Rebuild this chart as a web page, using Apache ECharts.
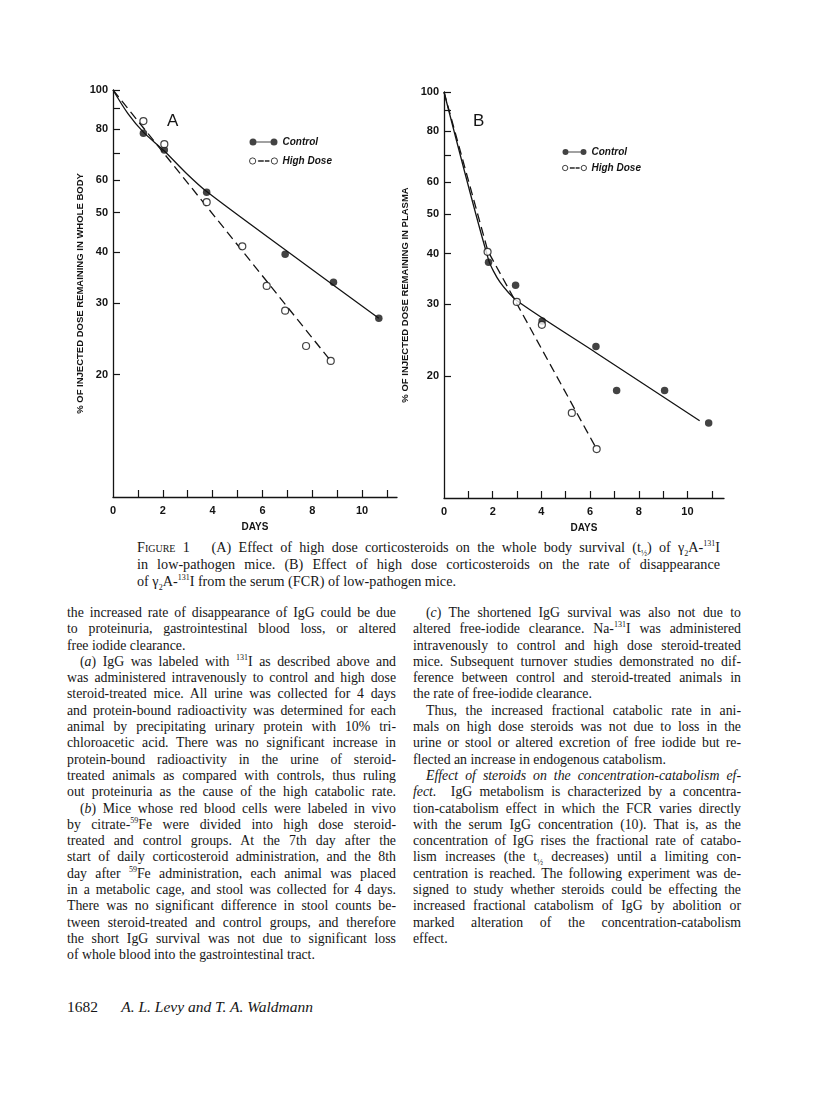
<!DOCTYPE html>
<html>
<head>
<meta charset="utf-8">
<script src="https://cdn.jsdelivr.net/npm/echarts@6/dist/echarts.min.js"></script>
<style>
  body { margin:0; background:#fff; width:816px; height:1100px; position:relative; overflow:hidden;
         font-family:'Liberation Serif','DejaVu Serif',serif; color:#161616; }
  #chart { position:absolute; left:0; top:0; width:816px; height:535px; }
  .cap { position:absolute; left:137px; top:539px; width:583px; font-size:14.2px; line-height:17px; }
  .col { position:absolute; top:605px; font-size:13.8px; line-height:16.3px; }
  .j { text-align:justify; text-align-last:justify; }
  .l { text-align:left; }
  .ind { text-indent:13px; }
  sup, sub { font-size:8px; line-height:0; }
  .sc { font-variant:small-caps; }
  .foot { position:absolute; left:67px; top:998px; font-size:15.5px; }
</style>
</head>
<body>
<div id="chart"></div>

<div class="cap">
  <div class="j"><span class="sc">Figure</span> 1&nbsp;&nbsp; (A) Effect of high dose corticosteroids on the whole body survival (t<sub>½</sub>) of γ<sub>2</sub>A-<sup>131</sup>I</div>
  <div class="j">in low-pathogen mice. (B) Effect of high dose corticosteroids on the rate of disappearance</div>
  <div class="l">of γ<sub>2</sub>A-<sup>131</sup>I from the serum (FCR) of low-pathogen mice.</div>
</div>

<div class="col" style="left:67px;width:329px">
  <div class="j">the increased rate of disappearance of IgG could be due</div>
  <div class="j">to proteinuria, gastrointestinal blood loss, or altered</div>
  <div class="l">free iodide clearance.</div>
  <div class="j ind">(<i>a</i>) IgG was labeled with <sup>131</sup>I as described above and</div>
  <div class="j">was administered intravenously to control and high dose</div>
  <div class="j">steroid-treated mice. All urine was collected for 4 days</div>
  <div class="j">and protein-bound radioactivity was determined for each</div>
  <div class="j">animal by precipitating urinary protein with 10% tri-</div>
  <div class="j">chloroacetic acid. There was no significant increase in</div>
  <div class="j">protein-bound radioactivity in the urine of steroid-</div>
  <div class="j">treated animals as compared with controls, thus ruling</div>
  <div class="j">out proteinuria as the cause of the high catabolic rate.</div>
  <div class="j ind">(<i>b</i>) Mice whose red blood cells were labeled in vivo</div>
  <div class="j">by citrate-<sup>59</sup>Fe were divided into high dose steroid-</div>
  <div class="j">treated and control groups. At the 7th day after the</div>
  <div class="j">start of daily corticosteroid administration, and the 8th</div>
  <div class="j">day after <sup>59</sup>Fe administration, each animal was placed</div>
  <div class="j">in a metabolic cage, and stool was collected for 4 days.</div>
  <div class="j">There was no significant difference in stool counts be-</div>
  <div class="j">tween steroid-treated and control groups, and therefore</div>
  <div class="j">the short IgG survival was not due to significant loss</div>
  <div class="l">of whole blood into the gastrointestinal tract.</div>
</div>

<div class="col" style="left:413px;width:328px">
  <div class="j ind">(<i>c</i>) The shortened IgG survival was also not due to</div>
  <div class="j">altered free-iodide clearance. Na-<sup>131</sup>I was administered</div>
  <div class="j">intravenously to control and high dose steroid-treated</div>
  <div class="j">mice. Subsequent turnover studies demonstrated no dif-</div>
  <div class="j">ference between control and steroid-treated animals in</div>
  <div class="l">the rate of free-iodide clearance.</div>
  <div class="j ind">Thus, the increased fractional catabolic rate in ani-</div>
  <div class="j">mals on high dose steroids was not due to loss in the</div>
  <div class="j">urine or stool or altered excretion of free iodide but re-</div>
  <div class="l">flected an increase in endogenous catabolism.</div>
  <div class="j ind"><i>Effect of steroids on the concentration-catabolism ef-</i></div>
  <div class="j"><i>fect.</i>&nbsp; IgG metabolism is characterized by a concentra-</div>
  <div class="j">tion-catabolism effect in which the FCR varies directly</div>
  <div class="j">with the serum IgG concentration (10). That is, as the</div>
  <div class="j">concentration of IgG rises the fractional rate of catabo-</div>
  <div class="j">lism increases (the t<sub>½</sub> decreases) until a limiting con-</div>
  <div class="j">centration is reached. The following experiment was de-</div>
  <div class="j">signed to study whether steroids could be effecting the</div>
  <div class="j">increased fractional catabolism of IgG by abolition or</div>
  <div class="j">marked alteration of the concentration-catabolism</div>
  <div class="l">effect.</div>
</div>

<div class="foot">1682&nbsp;&nbsp;&nbsp;&nbsp;&nbsp; <i>A. L. Levy and T. A. Waldmann</i></div>

<script>
// axis ticks
var xTicks = [1, 2, 3, 4, 5, 6, 7, 8, 9, 10, 11];
var xLabels = [0, 2, 4, 6, 8, 10];
var yTicks = [20, 30, 40, 50, 60, 70, 80, 90, 100];
var yLabels = [20, 30, 40, 50, 60, 80, 100];

// panel A - whole body
var daysA_control = [1.22, 2.06, 3.76, 6.91, 8.85, 10.67];
var pctA_control  = [78.3, 71.2, 56.1, 39.5, 33.7, 27.5];
var daysA_high    = [1.22, 2.06, 3.76, 5.19, 6.17, 6.91, 7.75, 8.74];
var pctA_high     = [83.9, 73.6, 53.0, 41.3, 33.0, 28.7, 23.5, 21.6];
var fitDaysA_control = [0, 0.6, 1.22, 2.06, 2.9, 3.76, 6.91, 10.67];
var fitPctA_control  = [100, 87.5, 78.8, 70.8, 62.8, 56.3, 40.5, 27.5];
var fitDaysA_high    = [0, 8.74];
var fitPctA_high     = [100, 21.6];

// panel B - plasma
var daysB_control = [1.83, 2.94, 4.03, 6.24, 7.09, 9.06, 10.87];
var pctB_control  = [38.1, 33.4, 27.3, 23.6, 18.4, 18.4, 15.3];
var daysB_high    = [1.79, 2.99, 4.02, 5.25, 6.27];
var pctB_high     = [40.4, 30.4, 26.7, 16.2, 13.2];
var fitDaysB_control = [0, 1.83, 2.3, 3.0, 6.24, 10.5];
var fitPctB_control  = [100, 38.6, 34.0, 30.6, 22.8, 15.5];
var fitDaysB_high    = [0, 1.8, 6.27];
var fitPctB_high     = [100, 40.6, 13.2];

function pairs(xs, ys) {
  return xs.map(function (x, i) { return [x, ys[i]]; });
}

var ink = '#141414';
var sansFont = "'Liberation Sans',Arial,sans-serif";

function xAxisFor(grid, max) {
  return {
    type: 'value', gridIndex: grid, min: 0, max: max,
    name: 'DAYS', nameLocation: 'middle', nameGap: 25,
    nameTextStyle: { color: ink, fontFamily: sansFont, fontSize: 10, fontWeight: 'bold' },
    axisLine: { show: true, lineStyle: { color: ink, width: 1.3 } },
    axisTick: { show: true, inside: true, length: 7, customValues: xTicks, lineStyle: { color: ink, width: 1.2 } },
    axisLabel: { customValues: xLabels, margin: 8, color: ink, fontFamily: sansFont, fontSize: 11, fontWeight: 'bold' },
    splitLine: { show: false }
  };
}

function yAxisFor(grid, name, gap) {
  return {
    type: 'log', logBase: 10, gridIndex: grid, min: 10, max: 100,
    name: name, nameLocation: 'middle', nameRotate: 90, nameGap: gap,
    nameTextStyle: { color: ink, fontFamily: sansFont, fontSize: 9.5, fontWeight: 'bold' },
    axisLine: { show: true, lineStyle: { color: ink, width: 1.3 } },
    axisTick: { show: true, inside: true, length: 7, customValues: yTicks, lineStyle: { color: ink, width: 1.2 } },
    axisLabel: { customValues: yLabels, margin: 5, color: ink, fontFamily: sansFont, fontSize: 11, fontWeight: 'bold' },
    splitLine: { show: false }
  };
}

var controlIcon = 'path://M0,3.5a3.5,3.5 0 1,0 7,0a3.5,3.5 0 1,0 -7,0Z M7,2.9h14v1.2h-14Z M21,3.5a3.5,3.5 0 1,0 7,0a3.5,3.5 0 1,0 -7,0Z';
var highIcon = 'path://M0.5,3.5a3,3 0 1,0 6,0a3,3 0 1,0 -6,0Z M9,3.2h5v0.6h-5Z M15.5,3.2h4v0.6h-4Z M21.5,3.5a3,3 0 1,0 6,0a3,3 0 1,0 -6,0Z';

function legendFor(left, top, w, h, gap) {
  return {
    left: left, top: top, orient: 'vertical', selectedMode: false,
    itemWidth: w, itemHeight: h, itemGap: gap,
    textStyle: { color: ink, fontFamily: sansFont, fontSize: 10, fontStyle: 'italic', fontWeight: 'bold' },
    data: [
      { name: 'Control', icon: controlIcon, itemStyle: { color: ink, borderWidth: 0 } },
      { name: 'High Dose', icon: highIcon, itemStyle: { color: '#fff', borderColor: ink, borderWidth: 1 } }
    ]
  };
}

function points(name, idx, xs, ys, open) {
  return {
    name: name, type: 'scatter', xAxisIndex: idx, yAxisIndex: idx, z: 5,
    symbol: 'circle', symbolSize: open ? 7 : 7.5,
    itemStyle: open ? { color: '#fff', borderColor: ink, borderWidth: 1.2 } : { color: ink },
    data: pairs(xs, ys)
  };
}

function fit(name, idx, xs, ys, dashed, smooth) {
  return {
    name: name, type: 'line', xAxisIndex: idx, yAxisIndex: idx, z: 3,
    showSymbol: false, smooth: smooth,
    lineStyle: { color: ink, width: 1.3, type: dashed ? [9, 5] : 'solid' },
    data: pairs(xs, ys)
  };
}

var chart = echarts.init(document.getElementById('chart'));
chart.setOption({
  animation: false,
  grid: [
    { left: 113, top: 90, width: 284, height: 407, outerBoundsMode: 'none' },
    { left: 444, top: 92, width: 280, height: 406, outerBoundsMode: 'none' }
  ],
  xAxis: [xAxisFor(0, 11.4), xAxisFor(1, 11.5)],
  yAxis: [
    yAxisFor(0, '% OF INJECTED DOSE REMAINING IN WHOLE BODY', 28),
    yAxisFor(1, '% OF INJECTED DOSE REMAINING IN PLASMA', 34)
  ],
  legend: [legendFor(244, 132, 28, 7, 9), legendFor(557, 142, 24, 6, 6)],
  graphic: [
    { type: 'text', left: 167, top: 113, style: { text: 'A', fill: ink, font: '17px Liberation Sans' } },
    { type: 'text', left: 473, top: 113, style: { text: 'B', fill: ink, font: '17px Liberation Sans' } }
  ],
  series: [
    fit('Control fit A', 0, fitDaysA_control, fitPctA_control, false, 0.3),
    fit('High Dose fit A', 0, fitDaysA_high, fitPctA_high, true, false),
    points('Control', 0, daysA_control, pctA_control, false),
    points('High Dose', 0, daysA_high, pctA_high, true),
    fit('Control fit B', 1, fitDaysB_control, fitPctB_control, false, 0.25),
    fit('High Dose fit B', 1, fitDaysB_high, fitPctB_high, true, false),
    points('Control', 1, daysB_control, pctB_control, false),
    points('High Dose', 1, daysB_high, pctB_high, true)
  ]
});
</script>
</body>
</html>
